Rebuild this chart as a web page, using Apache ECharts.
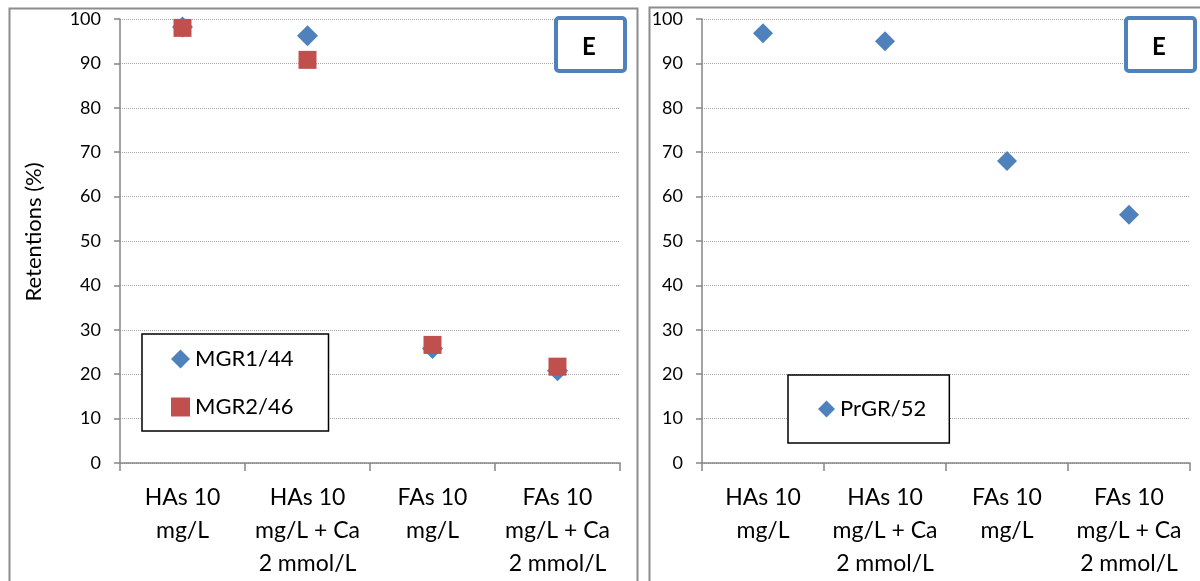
<!DOCTYPE html>
<html>
<head>
<meta charset="utf-8">
<script src="https://cdn.jsdelivr.net/npm/echarts@6/dist/echarts.min.js"></script>
<style>
  html, body { margin: 0; padding: 0; background: #fff; }
  #chart { width: 1200px; height: 581px; }
</style>
</head>
<body>
<div id="chart"></div>
<script>
// Categories shared by both panels
const categories = [
  'HAs 10\nmg/L',
  'HAs 10\nmg/L + Ca\n2 mmol/L',
  'FAs 10\nmg/L',
  'FAs 10\nmg/L + Ca\n2 mmol/L'
];

// Retention values (%)
const mgr1 = [98.2, 96.2, 25.8, 20.8];   // MGR1/44
const mgr2 = [98.0, 90.8, 26.6, 21.7];   // MGR2/46
const prgr = [96.8, 95.0, 68.0, 55.9];   // PrGR/52

const seriesNames = ['MGR1/44', 'MGR2/46', 'PrGR/52'];
const yMin = 0, yMax = 100, yStep = 10;
const yTitle = 'Retentions (%)';
const panelTag = 'E';

const FONT = 'Lato';
const BLUE = '#4F81BD';
const RED = '#C0504D';
const AXIS = '#868686';

function xAxisFor(gridIndex) {
  return {
    type: 'category',
    gridIndex,
    data: categories,
    boundaryGap: true,
    axisLine: { lineStyle: { color: AXIS, width: 1.5 } },
    axisTick: { show: true, interval: 0, length: 8, lineStyle: { color: AXIS, width: 1.5 } },
    axisLabel: {
      interval: 0, color: '#000', fontFamily: FONT, fontSize: 23,
      lineHeight: 33, margin: 18, align: 'center'
    },
    splitLine: { show: false }
  };
}

function yAxisFor(gridIndex) {
  return {
    type: 'value',
    gridIndex,
    min: yMin, max: yMax, interval: yStep,
    axisLine: { show: true, lineStyle: { color: AXIS, width: 1.5 } },
    axisTick: { show: true, length: 6, lineStyle: { color: AXIS, width: 1.5 } },
    axisLabel: { color: '#000', fontFamily: FONT, fontSize: 18, margin: 19 },
    splitLine: { show: true, lineStyle: { color: '#a6a6a6', width: 1, type: [1, 1] } }
  };
}

function tagBox(x) {
  return [
    {
      type: 'rect', left: x, top: 16,
      shape: { width: 69, height: 53, r: 3 },
      style: { fill: '#fff', stroke: BLUE, lineWidth: 4 },
      z: 10
    },
    {
      type: 'text', left: x + 28, top: 35,
      style: { text: panelTag, font: 'bold 24px Lato', fill: '#000' },
      z: 11
    }
  ];
}

const option = {
  backgroundColor: '#fff',
  animation: false,
  grid: [
    { left: 120, top: 19, width: 500, height: 444 },
    { left: 702, top: 19, width: 488, height: 444 }
  ],
  xAxis: [xAxisFor(0), xAxisFor(1)],
  yAxis: [yAxisFor(0), yAxisFor(1)],
  legend: [
    {
      data: [seriesNames[0], seriesNames[1]],
      orient: 'vertical',
      left: 142, top: 334,
      padding: [13, 35, 12, 29],
      itemGap: 24,
      itemWidth: 19, itemHeight: 19,
      borderColor: '#000', borderWidth: 1.5,
      backgroundColor: '#fff',
      textStyle: { color: '#000', fontFamily: FONT, fontSize: 22, lineHeight: 24 }
    },
    {
      data: [seriesNames[2]],
      orient: 'vertical',
      left: 788, top: 375,
      padding: [22, 23, 22, 30],
      itemWidth: 17, itemHeight: 17,
      borderColor: '#000', borderWidth: 1.5,
      backgroundColor: '#fff',
      textStyle: { color: '#000', fontFamily: FONT, fontSize: 22, lineHeight: 24 }
    }
  ],
  series: [
    {
      name: seriesNames[0], type: 'scatter', xAxisIndex: 0, yAxisIndex: 0,
      data: mgr1, symbol: 'diamond', symbolSize: [21, 21],
      itemStyle: { color: BLUE, opacity: 1 }, z: 3
    },
    {
      name: seriesNames[1], type: 'scatter', xAxisIndex: 0, yAxisIndex: 0,
      data: mgr2, symbol: 'rect', symbolSize: [18, 18],
      itemStyle: { color: RED, opacity: 1 }, z: 4
    },
    {
      name: seriesNames[2], type: 'scatter', xAxisIndex: 1, yAxisIndex: 1,
      data: prgr, symbol: 'diamond', symbolSize: [20, 20],
      itemStyle: { color: BLUE, opacity: 1 }, z: 3
    }
  ],
  graphic: [
    // panel frames
    {
      type: 'rect', left: 7, top: 6,
      shape: { width: 628, height: 600 },
      style: { fill: 'none', stroke: '#8c8c8c', lineWidth: 2 }, z: -1
    },
    {
      type: 'rect', left: 647, top: 5,
      shape: { width: 600, height: 600 },
      style: { fill: 'none', stroke: '#8c8c8c', lineWidth: 2 }, z: -1
    },
    // y-axis title of the left panel
    {
      type: 'text', x: 34, y: 232, rotation: Math.PI / 2,
      style: {
        text: yTitle, font: '22px Lato', fill: '#000',
        align: 'center', verticalAlign: 'middle'
      }
    },
    ...tagBox(554),
    ...tagBox(1124)
  ]
};

const chart = echarts.init(document.getElementById('chart'), null, { renderer: 'canvas' });
chart.setOption(option);
</script>
</body>
</html>
